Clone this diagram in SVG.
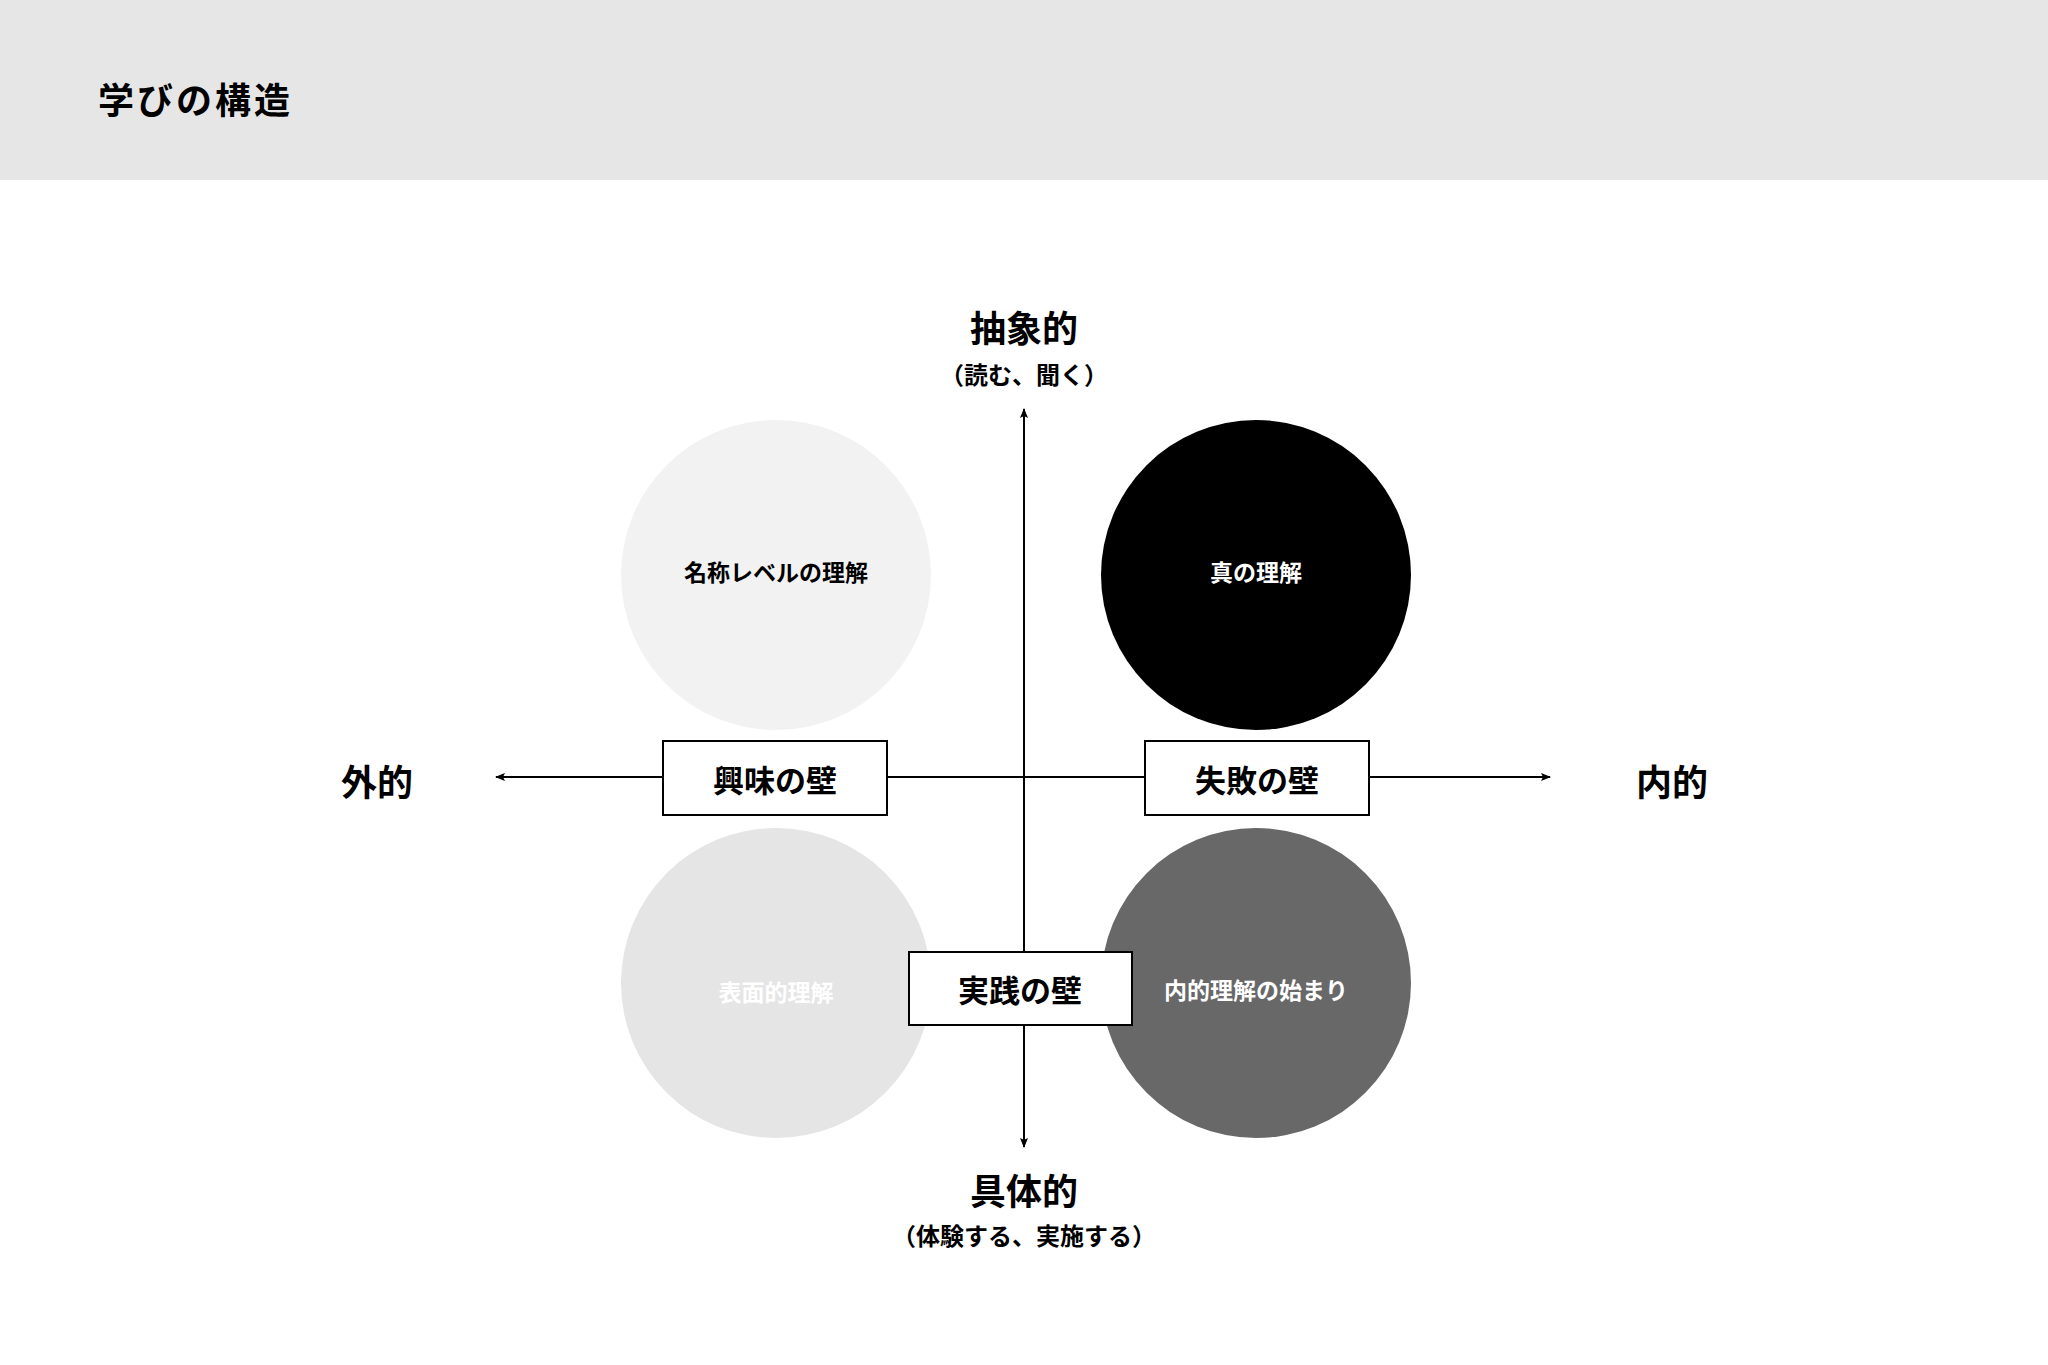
<svg xmlns="http://www.w3.org/2000/svg" width="2048" height="1365" viewBox="0 0 2048 1365">
<style>
text{font-family:"Noto Sans CJK JP","Noto Sans CJK SC",sans-serif;font-weight:bold;text-anchor:middle;dominant-baseline:central}
.ax{stroke:#000;stroke-width:2;fill:none}
.box{fill:#fff;stroke:#000;stroke-width:2}
.bl{font-size:31px;fill:#000}
.cl{font-size:23px}
.al{font-size:36px}
.sl{font-size:24px}
</style>
<defs><marker id="ar" viewBox="0 0 10 10" refX="9" refY="5" markerWidth="10" markerHeight="10" markerUnits="userSpaceOnUse" orient="auto"><path d="M0,1 L10,5 L0,9 L2,5 z" fill="#000"/></marker></defs>
<rect width="2048" height="1365" fill="#fff"/>
<rect width="2048" height="180" fill="#e6e6e6"/>
<text x="98" y="98" style="text-anchor:start;font-size:36px;letter-spacing:3px">学びの構造</text>
<g id="c1"><circle cx="776" cy="575" r="155" fill="#f2f2f2"/><text class="cl" x="776" y="571" fill="#000">名称レベルの理解</text></g>
<g id="c2"><circle cx="1256" cy="575" r="155" fill="#000"/><text class="cl" x="1256" y="571" fill="#fff">真の理解</text></g>
<g id="c3"><circle cx="776" cy="983" r="155" fill="#e6e5e6"/><text class="cl" x="776" y="991" fill="#fff">表面的理解</text></g>
<g id="c4"><circle cx="1256" cy="983" r="155" fill="#696869"/><text class="cl" x="1256" y="989" fill="#fff">内的理解の始まり</text></g>
<g id="connectors">
<line class="ax" x1="1024" y1="1147" x2="1024" y2="409" marker-end="url(#ar)"/>
<line class="ax" x1="1024" y1="409" x2="1024" y2="1147" marker-end="url(#ar)"/>
<line class="ax" x1="1024" y1="777" x2="496" y2="777" marker-end="url(#ar)"/>
<line class="ax" x1="1024" y1="777" x2="1550" y2="777" marker-end="url(#ar)"/>
</g>
<g id="b1"><rect class="box" x="663" y="741" width="224" height="74"/><text class="bl" x="775" y="778">興味の壁</text></g>
<g id="b2"><rect class="box" x="1145" y="741" width="224" height="74"/><text class="bl" x="1257" y="778">失敗の壁</text></g>
<g id="b3"><rect class="box" x="909" y="952" width="223" height="73"/><text class="bl" x="1020" y="988">実践の壁</text></g>
<g id="top"><text class="al" x="1024" y="326">抽象的</text><text class="sl" x="1024" y="373">（読む、聞く）</text></g>
<g id="bottom"><text class="al" x="1024" y="1189">具体的</text><text class="sl" x="1024" y="1234">（体験する、実施する）</text></g>
<g id="left"><text class="al" x="377" y="780">外的</text></g>
<g id="right"><text class="al" x="1672" y="780">内的</text></g>
</svg>
